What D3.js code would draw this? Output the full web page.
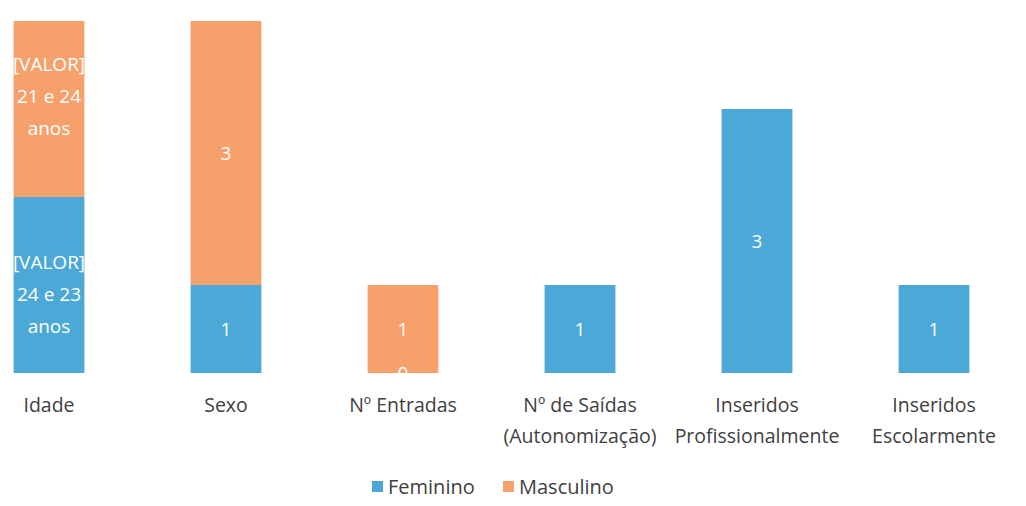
<!DOCTYPE html>
<meta charset="utf-8">
<script src="https://d3js.org/d3.v7.min.js"></script>
<style>
  body { margin: 0; background: #fff; }
  text { font-family: "Open Sans", sans-serif; }
</style>
<div id="chart"></div>
<script>

// categories (each can have several lines)
var categories = [
  ["Idade"],
  ["Sexo"],
  ["Nº Entradas"],
  ["Nº de Saídas", "(Autonomização)"],
  ["Inseridos", "Profissionalmente"],
  ["Inseridos", "Escolarmente"]
];
var feminino  = [2, 1, 0, 1, 3, 1];
var masculino = [2, 3, 1, 0, 0, 0];
// data labels shown on the segments (empty = none)
var femLabels  = [["[VALOR]", "24 e 23", "anos"], ["1"], ["0"], ["1"], ["3"], ["1"]];
var mascLabels = [["[VALOR]", "21 e 24", "anos"], ["3"], ["1"], [], [], []];
var seriesNames = ["Feminino", "Masculino"];
var colors = ["#4ba8d7", "#f6a06b"];

var W = 1026, H = 506;

var svg = d3.select("#chart")
  .append("svg")
    .attr("width", W)
    .attr("height", H);

var x = d3.scaleBand()
  .domain(d3.range(categories.length))
  .range([-39.5, 1022.5])
  .paddingInner(0.6)
  .paddingOuter(0.3);

var y = d3.scaleLinear()
  .domain([0, 4])
  .range([373, 21]);

var rows = categories.map(function(c, i) {
  return {i: i, Feminino: feminino[i], Masculino: masculino[i]};
});
var stacked = d3.stack().keys(seriesNames)(rows);

// bars
svg.selectAll("g.series")
  .data(stacked)
  .enter().append("g")
    .attr("class", "series")
    .attr("fill", function(d, k) { return colors[k]; })
  .selectAll("rect")
    .data(function(d) { return d; })
    .enter().append("rect")
      .attr("x", function(d) { return x(d.data.i); })
      .attr("width", x.bandwidth())
      .attr("y", function(d) { return y(d[1]); })
      .attr("height", function(d) { return y(d[0]) - y(d[1]); });

// data labels (multi-line ones sit a bit off-centre, as in the original)
var allLabels = [femLabels, mascLabels];
var multiShift = [9, -13];
stacked.forEach(function(s, k) {
  s.forEach(function(d, i) {
    var lines = allLabels[k][i];
    if (!lines.length) return;
    var cy = (y(d[0]) + y(d[1])) / 2;
    var lh = 32;
    var t = svg.append("text")
      .attr("text-anchor", "middle")
      .attr("fill", "#fff")
      .style("font-size", "19px");
    lines.forEach(function(l, j) {
      t.append("tspan")
        .attr("x", x(i) + x.bandwidth() / 2)
        .attr("y", cy + (j - (lines.length - 1) / 2) * lh + (lines.length > 1 ? multiShift[k] : 0))
        .attr("dy", "0.35em")
        .text(l);
    });
  });
});

// category axis labels
categories.forEach(function(lines, i) {
  var t = svg.append("text")
    .attr("text-anchor", "middle")
    .attr("fill", "#404040")
    .style("font-size", "19.5px");
  lines.forEach(function(l, j) {
    t.append("tspan")
      .attr("x", x(i) + x.bandwidth() / 2)
      .attr("y", 405 + j * 31)
      .attr("dy", "0.35em")
      .text(l);
  });
});

// legend
var legend = svg.append("g").attr("transform", "translate(372,487)");
var lx = [0, 131];
seriesNames.forEach(function(n, k) {
  var g = legend.append("g").attr("transform", "translate(" + lx[k] + ",0)");
  g.append("rect")
    .attr("x", 0).attr("y", -6)
    .attr("width", 11).attr("height", 11)
    .attr("fill", colors[k]);
  g.append("text")
    .attr("x", 16)
    .attr("dy", "0.35em")
    .attr("fill", "#404040")
    .style("font-size", "20px")
    .text(n);
});

</script>
